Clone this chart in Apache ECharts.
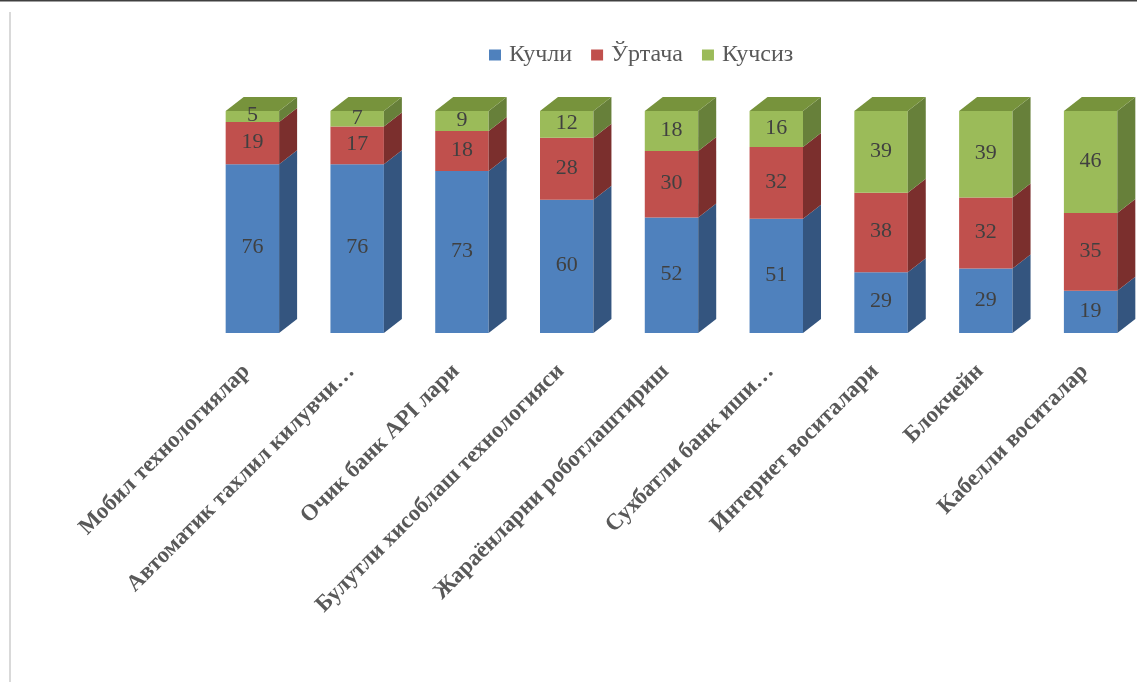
<!DOCTYPE html>
<html>
<head>
<meta charset="utf-8">
<script src="https://cdn.jsdelivr.net/npm/echarts@6/dist/echarts.min.js"></script>
<style>
  html, body { margin: 0; padding: 0; background: #fff; }
  #chart { width: 1137px; height: 682px; }
</style>
</head>
<body>
<div id="chart"></div>
<script>
// Categories and raw survey values (bars are drawn as 100% stacks)
const categories = [
    'Мобил технологиялар',
    'Автоматик тахлил килувчи…',
    'Очик банк API лари',
    'Булутли хисоблаш технологияси',
    'Жараёнларни роботлаштириш',
    'Сухбатли банк иши…',
    'Интернет воситалари',
    'Блокчейн',
    'Кабелли воситалар',
];
const strong = [76, 76, 73, 60, 52, 51, 29, 29, 19];
const medium = [19, 17, 18, 28, 30, 32, 38, 32, 35];
const weak = [5, 7, 9, 12, 18, 16, 39, 39, 46];
const seriesNames = ['Кучли', 'Ўртача', 'Кучсиз'];

const COLORS = {
    front: ['#4F81BD', '#C0504D', '#9BBB59'],
    side: ['#34557F', '#7B2F2D', '#67803A'],
    top: ['#3E6796', '#99403D', '#77933C'],
    label: '#404040',
    axis: '#595959',
};
const SERIF = '"Liberation Serif", "DejaVu Serif", serif';
const DEPTH_X = 18;
const DEPTH_Y = -14;
const BAR_SHIFT = 6; // bars sit a little right of the label anchor

const allValues = [strong, medium, weak];

// build stacked percentage rows: [catIndex, low%, high%, raw]
function stackRows(seriesIdx) {
    return categories.map((_, i) => {
        const total = allValues.reduce((s, arr) => s + arr[i], 0);
        let low = 0;
        for (let k = 0; k < seriesIdx; k++) low += allValues[k][i] / total * 100;
        const high = low + allValues[seriesIdx][i] / total * 100;
        return [i, low, high, allValues[seriesIdx][i]];
    });
}

function makeRenderer(seriesIdx, isTop) {
    return function (params, api) {
        const cat = api.value(0);
        const lo = api.coord([cat, api.value(1)]);
        const hi = api.coord([cat, api.value(2)]);
        const bw = api.size([1, 0])[0] * 0.51;
        const cx = lo[0] + BAR_SHIFT;
        const x0 = cx - bw / 2;
        const x1 = cx + bw / 2;
        const yb = lo[1];
        const yt = hi[1];
        const children = [
            {
                type: 'rect',
                shape: { x: x0, y: yt, width: bw, height: yb - yt },
                style: { fill: COLORS.front[seriesIdx] },
            },
            {
                type: 'polygon',
                shape: { points: [[x1, yt], [x1 + DEPTH_X, yt + DEPTH_Y], [x1 + DEPTH_X, yb + DEPTH_Y], [x1, yb]] },
                style: { fill: COLORS.side[seriesIdx] },
            },
        ];
        if (isTop) {
            children.push({
                type: 'polygon',
                shape: { points: [[x0, yt], [x0 + DEPTH_X, yt + DEPTH_Y], [x1 + DEPTH_X, yt + DEPTH_Y], [x1, yt]] },
                style: { fill: COLORS.top[seriesIdx] },
            });
        }
        children.push({
            type: 'text',
            style: {
                text: String(api.value(3)),
                x: cx,
                y: (yt + yb) / 2 - 1,
                align: 'center',
                verticalAlign: 'middle',
                fill: COLORS.label,
                font: '22px ' + SERIF,
            },
        });
        return { type: 'group', children };
    };
}

const chart = echarts.init(document.getElementById('chart'), null, { renderer: 'canvas' });
chart.setOption({
    animation: false,
    color: COLORS.front,
    graphic: [
        { type: 'line', shape: { x1: 0, y1: 0.5, x2: 1137, y2: 0.5 }, style: { stroke: '#404040', lineWidth: 2 } },
        { type: 'line', shape: { x1: 10, y1: 12, x2: 10, y2: 682 }, style: { stroke: '#d9d9d9', lineWidth: 2 } },
    ],
    legend: {
        data: seriesNames,
        left: 484,
        top: 38,
        icon: 'rect',
        itemWidth: 12,
        itemHeight: 11,
        itemGap: 19,
        textStyle: { color: COLORS.axis, fontSize: 24, fontFamily: SERIF, padding: [0, 0, 0, 3] },
    },
    grid: { left: 200 - BAR_SHIFT, top: 111, width: 944, height: 222 },
    xAxis: {
        type: 'category',
        data: categories,
        axisLine: { show: false },
        axisTick: { show: false },
        axisLabel: {
            interval: 0,
            rotate: 45,
            margin: 35,
            color: COLORS.axis,
            fontSize: 23,
            fontWeight: 'bold',
            fontFamily: SERIF,
        },
    },
    yAxis: { type: 'value', min: 0, max: 100, show: false, splitLine: { show: false } },
    series: seriesNames.map((name, idx) => ({
        name,
        type: 'custom',
        renderItem: makeRenderer(idx, idx === seriesNames.length - 1),
        encode: { x: 0, y: [1, 2] },
        data: stackRows(idx),
        itemStyle: { color: COLORS.front[idx] },
    })),
});
</script>
</body>
</html>
